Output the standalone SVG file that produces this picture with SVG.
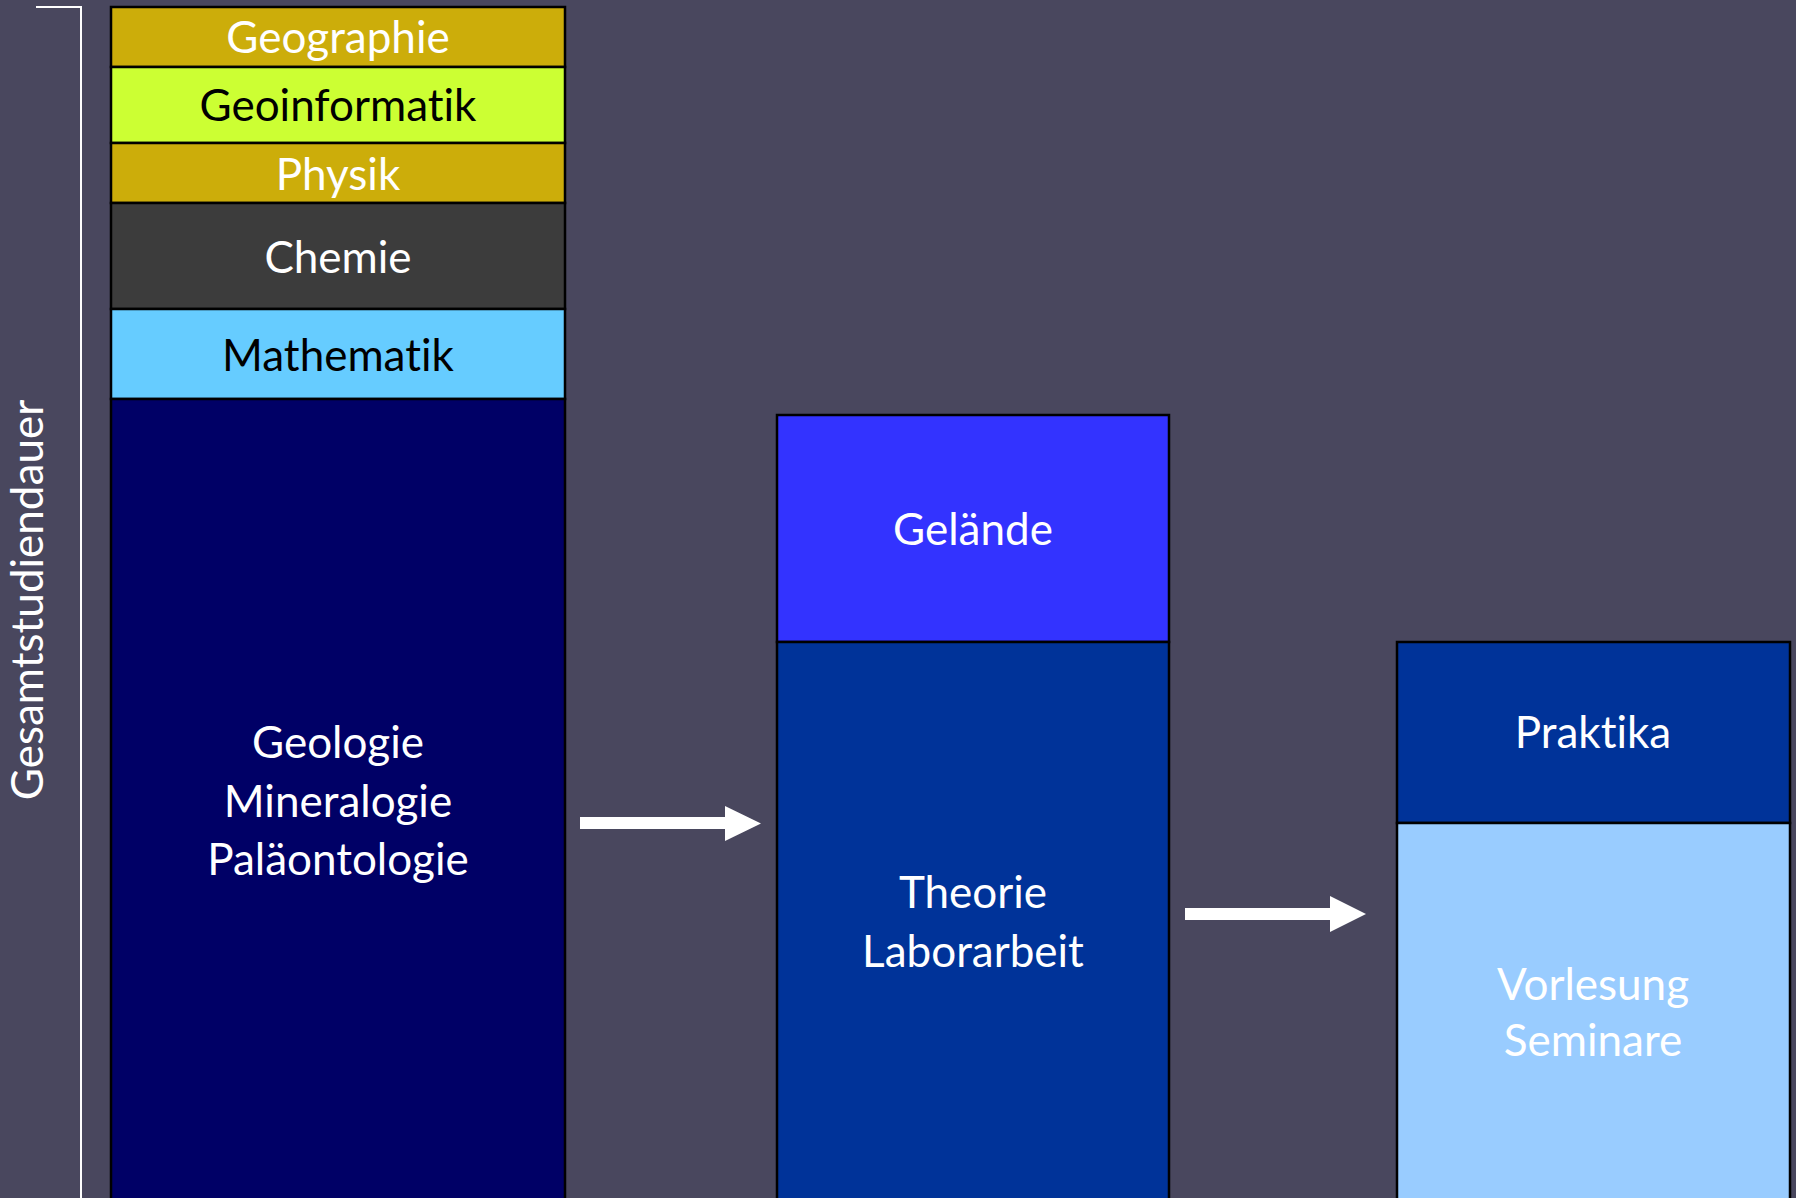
<svg xmlns="http://www.w3.org/2000/svg" width="1796" height="1198" viewBox="0 0 1796 1198">
<style>
.box{stroke:#000;stroke-width:2.5}
.t{font-family:Lato,"Open Sans","Liberation Sans",sans-serif;font-size:44px;text-anchor:middle;font-variant-ligatures:none;font-feature-settings:"liga" 0,"clig" 0}
.w{fill:#fff}
.k{fill:#000}
.arrow{fill:#fff}
</style>
<rect x="0" y="0" width="1796" height="1198" fill="#49475E"/>
<g id="scale">
<polyline points="36,7 81,7 81,1200" fill="none" stroke="#fff" stroke-width="2"/>
<text class="t w" transform="translate(43,600) rotate(-90)">Gesamtstudiendauer</text>
</g>
<g id="geographie"><rect class="box" x="111" y="7" width="454" height="60" fill="#CCAD0A"/><text class="t w" x="338" y="53">Geographie</text></g>
<g id="geoinformatik"><rect class="box" x="111" y="67" width="454" height="76" fill="#CCFF33"/><text class="t k" x="338" y="121">Geoinformatik</text></g>
<g id="physik"><rect class="box" x="111" y="143" width="454" height="60" fill="#CCAD0A"/><text class="t w" x="338" y="190">Physik</text></g>
<g id="chemie"><rect class="box" x="111" y="203" width="454" height="106" fill="#3C3C3C"/><text class="t w" x="338" y="273">Chemie</text></g>
<g id="mathematik"><rect class="box" x="111" y="309" width="454" height="90" fill="#66CCFF"/><text class="t k" x="338" y="371">Mathematik</text></g>
<g id="geologie"><rect class="box" x="111" y="399" width="454" height="820" fill="#000066"/><text class="t w" x="338" y="758">Geologie</text><text class="t w" x="338" y="817">Mineralogie</text><text class="t w" x="338" y="875">Paläontologie</text></g>
<g id="gelaende"><rect class="box" x="777" y="415" width="392" height="227" fill="#3333FF"/><text class="t w" x="973" y="545">Gelände</text></g>
<g id="theorie"><rect class="box" x="777" y="642" width="392" height="577" fill="#003399"/><text class="t w" x="973" y="908">Theorie</text><text class="t w" x="973" y="967">Laborarbeit</text></g>
<g id="praktika"><rect class="box" x="1397" y="642" width="393" height="181" fill="#003399"/><text class="t w" x="1593" y="748">Praktika</text></g>
<g id="vorlesung"><rect class="box" x="1397" y="823" width="393" height="396" fill="#99CCFF"/><text class="t w" x="1593" y="1000">Vorlesung</text><text class="t w" x="1593" y="1056">Seminare</text></g>
<g id="connectors">
<polygon class="arrow" points="580,817 725,817 725,806 761,823.5 725,841 725,829 580,829"/>
<polygon class="arrow" points="1185,908 1330,908 1330,896 1366,914 1330,932 1330,920 1185,920"/>
</g>
</svg>
